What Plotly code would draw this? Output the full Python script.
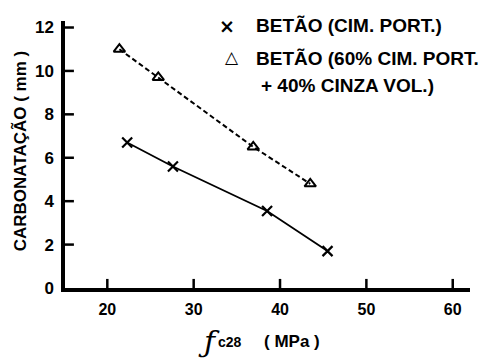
import plotly.graph_objects as go

# Data
fc28_port = [22.3, 27.6, 38.5, 45.5]
carb_port = [6.7, 5.6, 3.55, 1.7]
fc28_ash = [21.4, 25.9, 36.9, 43.5]
carb_ash = [11.0, 9.7, 6.5, 4.8]

x_ticks = [20, 30, 40, 50, 60]
y_ticks = [0, 2, 4, 6, 8, 10, 12]

label_port = "BETÃO (CIM. PORT.)"
label_ash_1 = "BETÃO (60% CIM. PORT."
label_ash_2 = "+ 40% CINZA VOL.)"

fig = go.Figure()
fig.add_trace(go.Scatter(
    x=fc28_port, y=carb_port, mode="lines+markers",
    line=dict(color="black", width=1.8),
    marker=dict(symbol="x-thin", size=10, line=dict(color="black", width=2.2)),
    showlegend=False))
fig.add_trace(go.Scatter(
    x=fc28_ash, y=carb_ash, mode="lines+markers",
    line=dict(color="black", width=2, dash="5px,3px"),
    marker=dict(symbol="triangle-up-open", size=10, color="black",
                line=dict(color="black", width=2)),
    showlegend=False))

# inside tick marks, placed through the axes' own scales
for v in x_ticks:
    fig.add_shape(type="line", xref="x", yref="y domain", x0=v, x1=v, y0=0, y1=0.034,
                  line=dict(color="black", width=2.5), layer="above")
for v in y_ticks[1:]:
    fig.add_shape(type="line", xref="x domain", yref="y", x0=0, x1=0.022, y0=v, y1=v,
                  line=dict(color="black", width=2.5), layer="above")

legend_font = dict(family="Liberation Sans, Arial", size=19, color="black")
sym_font = dict(family="DejaVu Sans", size=19, color="black")


def ann(x, y, text, font, xanchor="left", **kw):
    fig.add_annotation(xref="paper", yref="paper", x=x, y=y, xanchor=xanchor,
                       yanchor="middle", text=text, showarrow=False, font=font, **kw)


ann(0.400, 0.983, "<b>×</b>", sym_font, xanchor="center")
ann(0.466, 0.985, "<b>" + label_port + "</b>", legend_font)
ann(0.412, 0.865, "<b>△</b>", dict(family="DejaVu Sans", size=17, color="black"), xanchor="center")
ann(0.466, 0.861, "<b>" + label_ash_1 + "</b>", legend_font)
ann(0.480, 0.757, "<b>" + label_ash_2 + "</b>", legend_font)

# axis titles
ann(-0.109, 0.515, "<b>CARBONATAÇÃO ( mm )</b>",
    dict(family="Liberation Sans, Arial", size=17, color="black"),
    xanchor="center", textangle=-90)
ann(0.355, -0.199, "<i>ƒ</i>", dict(family="DejaVu Serif", size=30, color="black"),
    xanchor="center")
ann(0.372, -0.202, "<b>c28</b>", dict(family="Liberation Sans, Arial", size=14, color="black"))
ann(0.487, -0.202, "<b>( MPa )</b>", dict(family="Liberation Sans, Arial", size=17, color="black"))

fig.update_xaxes(range=[15.1, 62.0], tickvals=x_ticks,
                 ticktext=["<b>%d</b>" % v for v in x_ticks],
                 ticks="", showline=True, linewidth=3.5, linecolor="black",
                 showgrid=False, zeroline=False, ticklabelstandoff=4,
                 tickfont=dict(family="Liberation Sans, Arial", size=16, color="black"))
fig.update_yaxes(range=[0, 12.3], tickvals=y_ticks,
                 ticktext=["<b>%d</b>" % v for v in y_ticks],
                 ticks="", showline=True, linewidth=3.5, linecolor="black",
                 showgrid=False, zeroline=False, ticklabelstandoff=4,
                 tickfont=dict(family="Liberation Sans, Arial", size=17, color="black"))

fig.update_layout(width=485, height=358, margin=dict(l=65, r=15, t=21, b=70),
                  plot_bgcolor="white", paper_bgcolor="white", showlegend=False)
fig.write_html("out.html", config={"displayModeBar": False},
               post_script="document.body.style.margin='0';")
